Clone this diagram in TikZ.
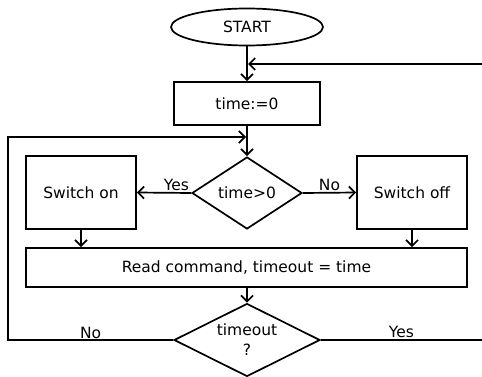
\documentclass[tikz,border=0pt]{standalone}
\usepackage{fontspec}
\setmainfont{DejaVu Sans}
\usetikzlibrary{shapes.geometric,arrows.meta}
\begin{document}
\begin{tikzpicture}[x=1pt,y=-1pt,
  every node/.style={font=\fontsize{15.5}{20}\selectfont},
  line/.style={draw=black,line width=1.7pt},
  arr/.style={line,-{Straight Barb[length=6pt,width=12pt,line width=1.7pt]}},
  box/.style={line,rectangle,inner sep=0pt},
  dia/.style={line,diamond,inner sep=0pt},
  lbl/.style={inner sep=1.5pt}]
\useasboundingbox (0,0) rectangle (482,377);
\node[line,ellipse,minimum width=152pt,minimum height=37pt,inner sep=0pt] (start) at (247,27) {START};
\node[box,minimum width=146pt,minimum height=43pt] (init) at (247,103.5) {time:=0};
\node[dia,aspect=1.5,minimum width=110pt,minimum height=72pt] (test) at (247,193) {time>0};
\node[box,minimum width=110pt,minimum height=73pt] (on) at (81,192.5) {Switch on};
\node[box,minimum width=110pt,minimum height=73pt] (off) at (412,192.5) {Switch off};
\node[box,minimum width=441pt,minimum height=39pt] (read) at (246.5,267.5) {Read command, timeout = time};
\node[dia,aspect=2,minimum width=146pt,minimum height=73pt,align=center] (tout) at (247,340) {timeout\\?};
\coordinate (j1) at (247,64);
\coordinate (j2) at (247,137);
\coordinate (rtop) at (482,64);
\coordinate (lcorner) at (8,340);
\coordinate (lup) at (8,137);
\coordinate (rend) at (482,340);
\draw[arr] (start.south) -- (init.north);
\draw[arr] (rtop) -- ([xshift=1pt]j1);
\draw[arr] (init.south) -- (test.north);
\draw[arr] (tout.west) -- (lcorner) -- (lup) -- ([xshift=-1pt]j2);
\draw[arr] (test.west) -- node[lbl,above,pos=0.27] {Yes} (on.east);
\draw[arr] (test.east) -- node[lbl,above] {No} (off.west);
\draw[arr] (on.south) -- (on.south |- read.north);
\draw[arr] (off.south) -- (off.south |- read.north);
\draw[arr] (read.south -| tout.north) -- (tout.north);
\path (tout.west) -- node[lbl,above,pos=0.5] {No} (lcorner);
\draw[line] (tout.east) -- node[lbl,above,pos=0.5] {Yes} (rend);
\end{tikzpicture}
\end{document}
